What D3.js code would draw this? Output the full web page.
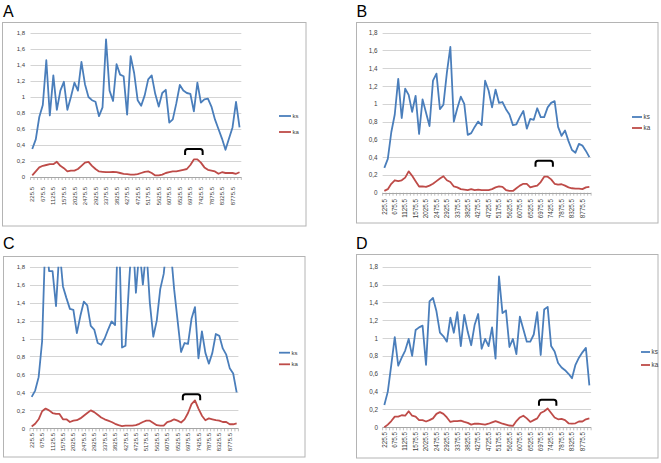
<!DOCTYPE html>
<html><head><meta charset="utf-8">
<script src="https://cdn.jsdelivr.net/npm/d3@7"></script>
<style>body{margin:0;background:#fff}svg{display:block}</style>
</head><body><svg id="c" width="661" height="463"></svg>
<script>
// ---------- DATA ----------
const categories = ["225.5","375.5","525.5","675.5","825.5","975.5","1125.5","1275.5","1425.5","1575.5",
"1725.5","1875.5","2025.5","2175.5","2325.5","2475.5","2625.5","2775.5","2925.5","3075.5",
"3225.5","3375.5","3525.5","3675.5","3825.5","3975.5","4125.5","4275.5","4425.5","4575.5",
"4725.5","4875.5","5025.5","5175.5","5325.5","5475.5","5625.5","5775.5","5925.5","6075.5",
"6225.5","6375.5","6525.5","6675.5","6825.5","6975.5","7125.5","7275.5","7425.5","7575.5",
"7725.5","7875.5","8025.5","8175.5","8325.5","8475.5","8625.5","8775.5","8925.5","9075.5"];
const xTickLabels = ["225.5","675.5","1125.5","1575.5","2025.5","2475.5","2925.5","3375.5","3825.5","4275.5",
"4725.5","5175.5","5625.5","6075.5","6525.5","6975.5","7425.5","7875.5","8325.5","8775.5"];
const yTickValues = [0,0.2,0.4,0.6,0.8,1,1.2,1.4,1.6,1.8];
const yTickLabels = ["0","0,2","0,4","0,6","0,8","1","1,2","1,4","1,6","1,8"];
const seriesNames = ["ks","ka"];
const panelNames = ["A","B","C","D"];

const ksA = [0.35,0.47,0.75,0.9,1.46,0.77,1.27,0.84,1.08,1.19,0.84,1.0,1.18,1.08,1.44,1.16,1.0,0.96,0.94,0.76,
0.87,1.72,1.08,0.95,1.41,1.28,1.26,0.78,1.51,1.3,0.96,0.89,1.02,1.22,1.27,1.04,0.88,1.05,1.09,0.68,
0.72,0.92,1.15,1.08,1.05,1.04,0.82,1.18,0.93,0.97,0.98,0.88,0.72,0.6,0.48,0.34,0.48,0.62,0.94,0.62];
const kaA = [0.02,0.07,0.12,0.14,0.15,0.16,0.16,0.19,0.14,0.11,0.07,0.08,0.08,0.1,0.14,0.18,0.19,0.14,0.1,0.07,
0.065,0.06,0.06,0.065,0.06,0.05,0.04,0.035,0.03,0.03,0.035,0.05,0.065,0.07,0.05,0.02,0.02,0.03,0.05,0.06,
0.07,0.07,0.08,0.09,0.1,0.15,0.22,0.22,0.18,0.12,0.09,0.08,0.07,0.04,0.06,0.05,0.05,0.05,0.04,0.06];

const ksB = [0.28,0.38,0.68,0.88,1.28,0.84,1.17,1.1,0.91,1.09,0.66,1.05,0.9,0.75,1.26,1.34,0.94,0.99,1.35,1.64,
0.8,0.95,1.08,1.0,0.65,0.67,0.74,0.8,0.76,1.26,1.15,0.96,1.16,1.01,1.02,0.94,0.88,0.76,0.77,0.85,
0.92,0.72,0.83,0.82,0.95,0.85,0.85,0.96,1.01,1.03,0.74,0.64,0.7,0.58,0.48,0.45,0.55,0.53,0.47,0.4];
const kaB = [0.02,0.04,0.1,0.14,0.13,0.14,0.17,0.24,0.19,0.13,0.07,0.07,0.065,0.08,0.1,0.13,0.16,0.185,0.14,0.12,
0.07,0.06,0.04,0.035,0.03,0.04,0.03,0.035,0.03,0.03,0.03,0.04,0.06,0.07,0.065,0.03,0.02,0.02,0.05,0.08,
0.1,0.1,0.06,0.07,0.08,0.12,0.18,0.18,0.15,0.1,0.09,0.095,0.08,0.06,0.05,0.045,0.045,0.04,0.06,0.065];

const ksC = [0.35,0.42,0.57,0.97,2.2,1.75,1.75,1.36,2.0,1.58,1.45,1.33,1.32,1.06,1.25,1.41,1.37,1.14,1.1,0.95,
0.93,1.0,1.1,1.19,1.15,2.4,0.9,0.92,1.6,2.2,1.51,2.0,1.6,2.0,1.4,1.02,1.2,1.55,1.72,2.1,
2.0,1.55,1.2,0.85,0.95,0.94,1.22,1.35,0.78,1.08,0.84,0.72,0.84,1.05,1.03,0.89,0.82,0.67,0.61,0.4];
const kaC = [0.02,0.05,0.1,0.19,0.22,0.2,0.17,0.16,0.16,0.1,0.1,0.07,0.085,0.09,0.11,0.14,0.17,0.2,0.18,0.15,
0.12,0.1,0.085,0.07,0.05,0.035,0.025,0.03,0.03,0.03,0.035,0.05,0.07,0.085,0.085,0.06,0.035,0.03,0.03,0.07,
0.08,0.1,0.085,0.065,0.1,0.17,0.27,0.31,0.22,0.14,0.09,0.11,0.1,0.09,0.085,0.07,0.07,0.045,0.045,0.055];

const ksD = [0.25,0.4,0.7,1.01,0.69,0.78,0.86,0.99,0.8,1.09,1.12,1.14,0.7,1.41,1.45,1.3,1.06,1.02,0.96,1.23,
1.06,1.29,0.91,1.26,1.07,0.92,1.15,1.27,0.88,0.99,0.91,1.12,0.77,1.69,1.28,1.31,0.9,0.99,0.82,1.24,
1.1,0.96,0.96,1.04,1.29,0.81,1.32,1.35,0.91,0.85,0.72,0.67,0.64,0.6,0.55,0.7,0.78,0.84,0.89,0.47];
const kaD = [0.0,0.03,0.07,0.12,0.12,0.135,0.13,0.18,0.13,0.12,0.08,0.08,0.065,0.08,0.1,0.15,0.17,0.15,0.11,0.06,
0.07,0.07,0.075,0.06,0.05,0.03,0.04,0.04,0.035,0.03,0.04,0.055,0.07,0.055,0.04,0.03,0.02,0.015,0.07,0.11,
0.13,0.1,0.06,0.08,0.1,0.16,0.18,0.21,0.16,0.11,0.09,0.095,0.08,0.045,0.04,0.045,0.065,0.065,0.09,0.1];

// bracket annotations: [from category, to category, value of top]
const bracketA = ["6825.5","7425.5",0.35];
const bracketB = ["6825.5","7425.5",0.36];
const bracketC = ["6825.5","7425.5",0.38];
const bracketD = ["6975.5","7575.5",0.31];

// ---------- LAYOUT ----------
const panels = [
 {name:"A", ks:ksA, ka:kaA, br:bracketA, letter:[3,16.5], box:[2.5,22.5,303.5,203.5], xr:[30.5,241.3], y0:177, y1:33, ylabR:25, xlabTop:187, leg:[279,291,116,132], fs:6},
 {name:"B", ks:ksB, ka:kaB, br:bracketB, letter:[356.5,17], box:[356.5,22.5,301.5,200.5], xr:[382.6,591.1], y0:192.7, y1:32.7, ylabR:377.5, xlabTop:199, leg:[632,642,117,128], fs:6.3},
 {name:"C", ks:ksC, ka:kaC, br:bracketC, letter:[3,248.5], box:[3.5,256.5,301.5,200.5], xr:[29.96,238.4], y0:428.3, y1:266.7, ylabR:25, xlabTop:433, leg:[279,290,352.7,364.3], fs:6},
 {name:"D", ks:ksD, ka:kaD, br:bracketD, letter:[356,248.5], box:[356.5,254.5,301.5,203.5], xr:[382.6,591.1], y0:427.3, y1:266.7, ylabR:378, xlabTop:432, leg:[641,650,352,365], fs:6.3}
];
const colors = {ks:"#4a7ebb", ka:"#be4b48"};
const font = "'Liberation Sans', Arial, sans-serif";

const svg = d3.select("#c");
svg.append("rect").attr("width",661).attr("height",463).attr("fill","#fff");

panels.forEach((p, pi) => {
  const g = svg.append("g");
  // frame
  g.append("rect").attr("x",p.box[0]).attr("y",p.box[1]).attr("width",p.box[2]).attr("height",p.box[3])
    .attr("fill","none").attr("stroke","#b4b4b4").attr("stroke-width",1);
  // letter
  g.append("text").attr("x",p.letter[0]).attr("y",p.letter[1]).text(p.name)
    .attr("font-family",font).attr("font-size",16).attr("fill","#000");

  const x = d3.scaleBand().domain(categories).range(p.xr).padding(0);
  const bw = x.bandwidth();
  const xc = c => x(c) + bw/2;
  const y = d3.scaleLinear().domain([0,1.8]).range([p.y0,p.y1]);

  // gridlines
  g.append("g").selectAll("line").data(yTickValues.filter(v=>v>0)).join("line")
    .attr("x1",p.xr[0]).attr("x2",p.xr[1]).attr("y1",d=>Math.round(y(d))+0.5).attr("y2",d=>Math.round(y(d))+0.5)
    .attr("stroke","#d4d4d4").attr("stroke-width",1);

  // y axis labels
  const yAxis = d3.axisLeft(y).tickValues(yTickValues).tickSize(0).tickPadding(0)
    .tickFormat((d,i)=>yTickLabels[i]);
  const ga = g.append("g").attr("transform",`translate(${p.ylabR},0)`).call(yAxis);
  ga.select(".domain").remove();
  ga.selectAll("text").attr("font-family",font).attr("font-size",p.fs).attr("fill","#404040");

  // x axis line + ticks between categories
  g.append("line").attr("x1",p.xr[0]).attr("x2",p.xr[1]).attr("y1",Math.round(p.y0)+0.5).attr("y2",Math.round(p.y0)+0.5)
    .attr("stroke","#a6a6a6").attr("stroke-width",1);
  const bounds = categories.map(c=>x(c)).concat([p.xr[1]]);
  g.append("g").selectAll("line").data(bounds).join("line")
    .attr("x1",d=>d).attr("x2",d=>d).attr("y1",p.y0).attr("y2",p.y0+3)
    .attr("stroke","#a6a6a6").attr("stroke-width",0.7);

  // x labels
  g.append("g").selectAll("text").data(xTickLabels).join("text")
    .attr("transform",d=>`translate(${xc(d)},${p.xlabTop}) rotate(-90)`)
    .attr("text-anchor","end").attr("dy","0.35em")
    .attr("font-family",font).attr("font-size",p.fs).attr("fill","#404040").text(d=>d);

  // clip
  const cid = "clip"+pi;
  svg.append("clipPath").attr("id",cid).append("rect")
    .attr("x",p.xr[0]-2).attr("y",p.y1).attr("width",p.xr[1]-p.xr[0]+4).attr("height",p.y0-p.y1+3);

  const line = d3.line().x((d,i)=>xc(categories[i])).y(d=>y(d));
  const lg = g.append("g").attr("clip-path",`url(#${cid})`);
  ["ka","ks"].forEach(s => {
    lg.append("path").attr("d",line(p[s])).attr("fill","none").attr("stroke",colors[s])
      .attr("stroke-width",1.8).attr("stroke-linejoin","round");
  });

  // bracket
  const bx1 = x(p.br[0]), bx2 = x(p.br[1]) + bw, by = y(p.br[2]), leg = 6, r = 2.5;
  g.append("path").attr("d",`M${bx1},${by+leg} V${by+r} Q${bx1},${by} ${bx1+r},${by} H${bx2-r} Q${bx2},${by} ${bx2},${by+r} V${by+leg}`)
    .attr("fill","none").attr("stroke","#000").attr("stroke-width",2);

  // legend
  seriesNames.forEach((s, si) => {
    const ly = p.leg[2+si];
    g.append("line").attr("x1",p.leg[0]).attr("x2",p.leg[1]).attr("y1",ly).attr("y2",ly)
      .attr("stroke",colors[s]).attr("stroke-width",1.8);
    g.append("text").attr("x",p.leg[1]+1.5).attr("y",ly).attr("dy","0.35em").text(s)
      .attr("font-family",font).attr("font-size",p.fs).attr("fill","#404040");
  });
});
</script>
</body></html>
